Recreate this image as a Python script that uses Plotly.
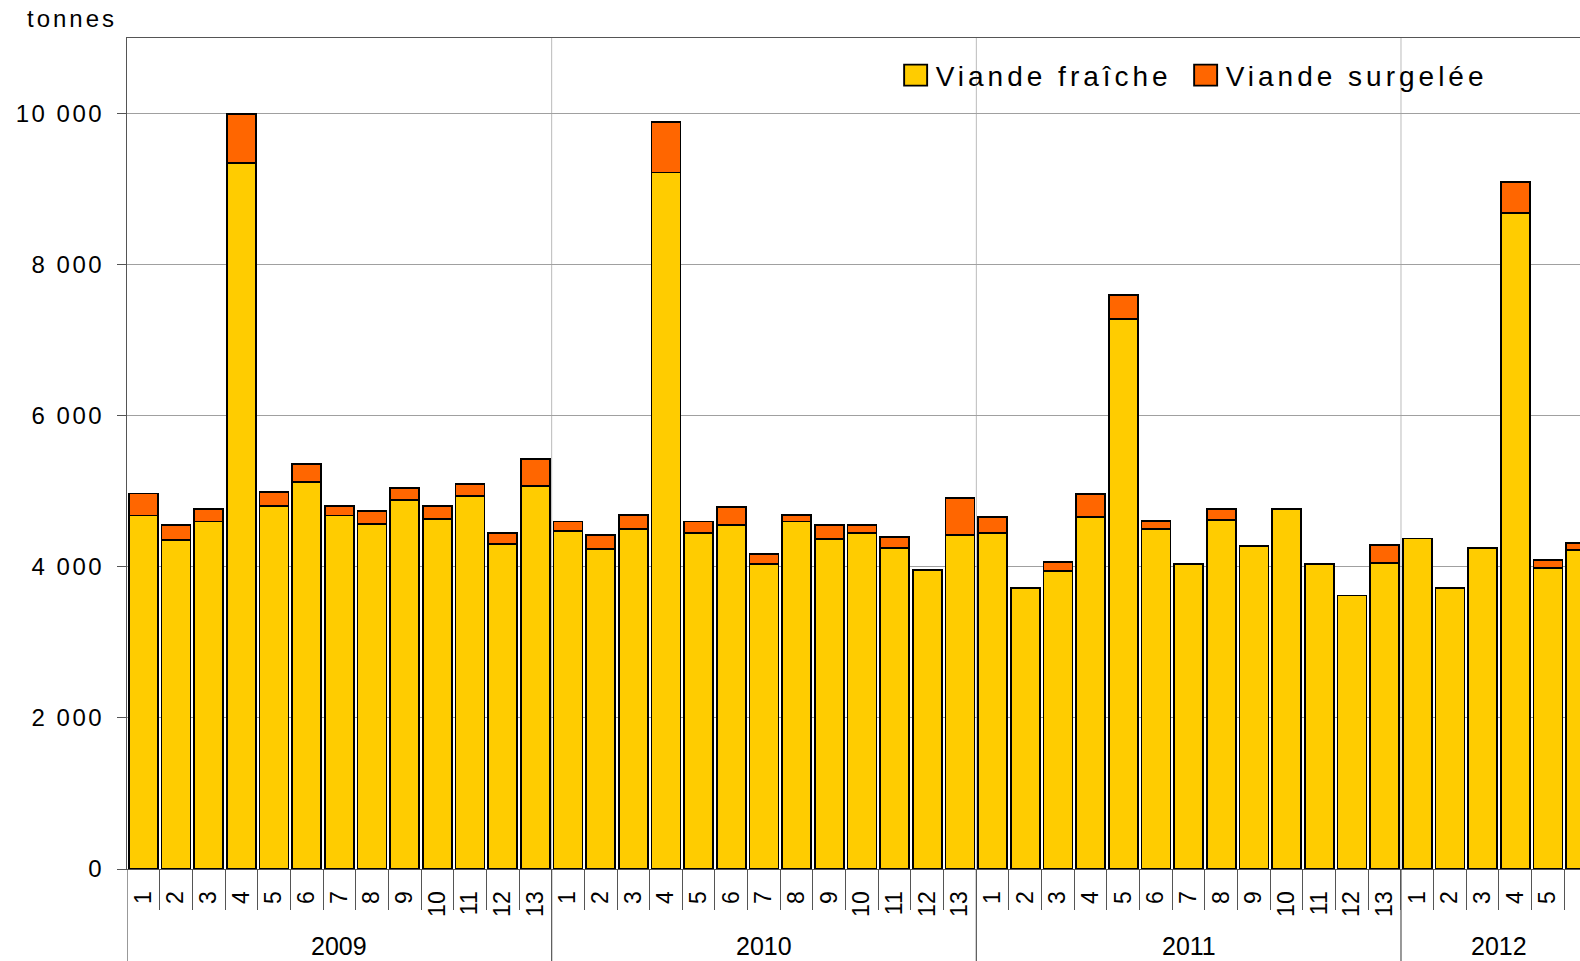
import plotly.graph_objects as go

years = ["2009", "2010", "2011", "2012"]
periods_per_year = [13, 13, 13, 6]

fresh_2009 = [4680, 4350, 4600, 9350, 4810, 5120, 4680, 4570, 4890, 4630, 4940, 4300, 5070]
frozen_2009 = [290, 200, 160, 650, 180, 240, 130, 170, 155, 180, 160, 150, 360]
fresh_2010 = [4470, 4240, 4500, 9220, 4450, 4550, 4035, 4600, 4370, 4450, 4245, 3955, 4420]
frozen_2010 = [130, 180, 185, 670, 150, 240, 130, 85, 180, 100, 155, 0, 495]
fresh_2011 = [4450, 3720, 3950, 4655, 7275, 4495, 4035, 4625, 4275, 4765, 4035, 3620, 4055]
frozen_2011 = [205, 0, 110, 310, 320, 110, 0, 140, 0, 0, 0, 0, 235]
fresh_2012 = [4375, 3720, 4250, 8680, 3985, 4220]
frozen_2012 = [0, 0, 0, 415, 105, 100]

y_ticks = [0, 2000, 4000, 6000, 8000, 10000]

fresh = fresh_2009 + fresh_2010 + fresh_2011 + fresh_2012
frozen = frozen_2009 + frozen_2010 + frozen_2011 + frozen_2012

inner = []
for n in periods_per_year:
    inner += [str(p) for p in range(1, n + 1)]
idx = list(range(len(inner)))

FONT = "Liberation Sans, Arial, sans-serif"
line = dict(color="#000000", width=1.9)

fig = go.Figure()
fig.add_trace(go.Bar(x=idx, y=fresh, name="Viande fraîche",
                     marker=dict(color="#FFCC00", line=line)))
fig.add_trace(go.Bar(x=idx, y=[v if v else None for v in frozen],
                     name="Viande surgelée",
                     marker=dict(color="#FF6600", line=line)))

# year blocks (in category index units)
starts = []
acc = 0
for n in periods_per_year:
    starts.append(acc)
    acc += n

shapes = []
annotations = []
for yr, s, n in zip(years, starts, periods_per_year):
    left = s - 0.5
    if s > 0:
        shapes.append(dict(type="line", xref="x", yref="paper", x0=left, x1=left,
                           y0=0, y1=1, layer="below",
                           line=dict(color="#bbbbbb", width=1)))
    shapes.append(dict(type="line", xref="x", yref="paper", x0=left, x1=left,
                       y0=0, y1=-0.112, line=dict(color="#555555", width=1.2)))
    annotations.append(dict(text=yr, xref="x", yref="paper", x=s + (n - 1) / 2,
                            y=-0.093, xanchor="center", yanchor="middle",
                            showarrow=False, font=dict(size=25, family=FONT)))

annotations.append(dict(text="tonnes", xref="paper", yref="paper",
                        x=-0.064, y=1.023, xanchor="left", yanchor="middle",
                        showarrow=False, font=dict(size=24, family=FONT)))

x_end = 43.98

fig.update_layout(
    width=1580, height=961,
    margin=dict(l=127, r=0, t=38, b=91.5),
    paper_bgcolor="white", plot_bgcolor="white",
    barmode="stack", bargap=0.11,
    separators=", ",
    font=dict(family=FONT, color="#000000", size=24),
    showlegend=True,
    legend=dict(orientation="h", x=0.529, y=0.955, xanchor="left", yanchor="middle",
                font=dict(size=28, family=FONT), bgcolor="rgba(0,0,0,0)",
                traceorder="normal", entrywidthmode="pixels", entrywidth=245),
    xaxis=dict(range=[-0.5, x_end], tickvals=idx, ticktext=inner,
               showgrid=False, zeroline=False,
               showline=True, linecolor="#555555", linewidth=1.2, mirror=True,
               ticks="", tickangle=-90, tickfont=dict(size=23, family=FONT),
               ticklabelstandoff=12,
               minor=dict(tickvals=[i + 0.5 for i in idx], ticks="outside",
                          ticklen=40, tickcolor="#555555", tickwidth=1, showgrid=False)),
    yaxis=dict(range=[0, 11000], tickvals=y_ticks, tickformat=",d",
               showgrid=True, gridcolor="#a0a0a0", gridwidth=1,
               showline=True, linecolor="#555555", linewidth=1.2,
               ticks="outside", ticklen=9, tickcolor="#555555",
               ticklabelstandoff=8, tickfont=dict(size=24, family=FONT),
               zeroline=False),
    shapes=shapes,
    annotations=annotations,
)

page_js = """
document.documentElement.style.overflow = 'hidden';
document.body.style.margin = '0';
document.body.style.overflow = 'hidden';
var gd = document.getElementById('{plot_id}');
function styleText() {
  gd.querySelectorAll('.legendtext').forEach(function(e){ e.style.letterSpacing = '4px'; });
  gd.querySelectorAll('.legend .scrollbox').forEach(function(e){ e.removeAttribute('clip-path'); });
  gd.querySelectorAll('.ytick text').forEach(function(e){ e.style.letterSpacing = '2.5px'; });
  gd.querySelectorAll('.annotation-text').forEach(function(e){
    if (e.textContent === 'tonnes') { e.style.letterSpacing = '3px'; }
  });
  gd.querySelectorAll('.legendpoints path').forEach(function(p){
    p.setAttribute('d', 'M11.5,10.5H-11.5V-10.5H11.5Z');
  });
}
styleText();
gd.on('plotly_afterplot', styleText);
"""

fig.write_html("out.html", post_script=page_js, config={"displayModeBar": False})
